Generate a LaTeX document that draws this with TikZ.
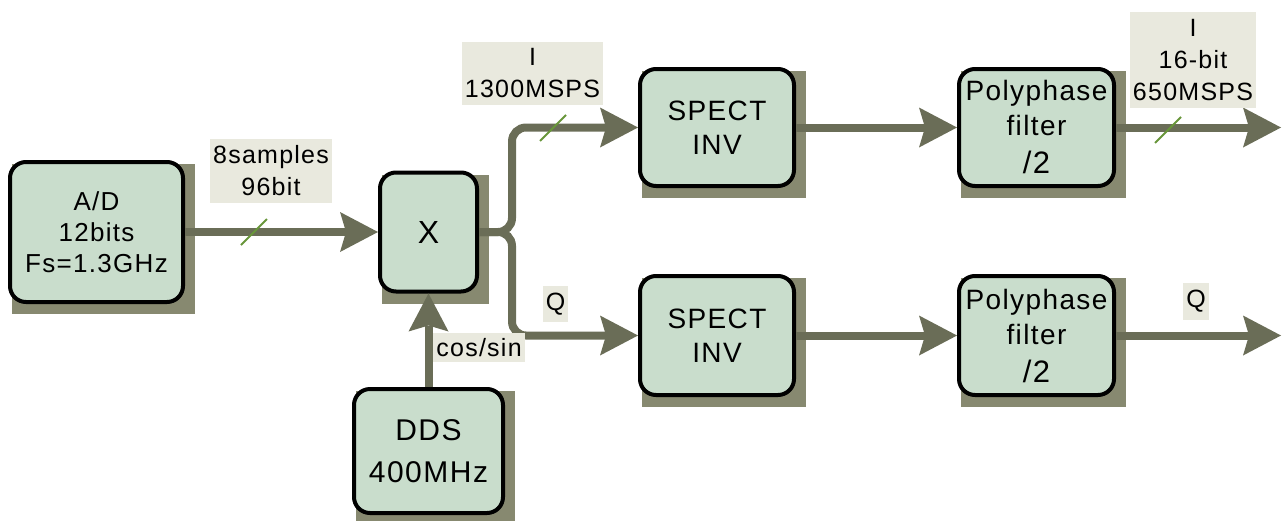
\documentclass[tikz,border=0pt]{standalone}
\usepackage{fontspec}
\setmainfont{Liberation Sans}[LetterSpace=5]
\usetikzlibrary{arrows.meta,positioning,calc,backgrounds}

\definecolor{boxc}{RGB}{201,221,204}
\definecolor{shadowc}{RGB}{135,137,112}
\definecolor{busc}{RGB}{106,109,87}
\definecolor{tagc}{RGB}{233,233,222}
\definecolor{slashc}{RGB}{104,150,58}

\begin{document}
\begin{tikzpicture}[
    x=1pt, y=-1pt,
    block/.style={rectangle, draw, line width=4pt, fill=boxc, text width=150pt, text centered,
                  rounded corners=16pt, inner sep=0pt, font=\fontsize{26}{31}\selectfont},
    bus/.style={draw=busc, line width=8pt,
                -{Stealth[length=38pt, width=40pt, inset=6pt, line width=0pt]}},
    tag/.style={fill=tagc, align=center, inner xsep=3pt, inner ysep=7pt,
                font=\fontsize{25}{32}\selectfont},
    slash/.style={draw=slashc, line width=2pt}
]
\useasboundingbox (0,0) rectangle (1282,520);

%% ── Blocks ───────────────────────────────────────────────────────
\node[block, minimum width=173pt, minimum height=140pt] (ad) at (96.5,232) {A/D\\12bits\\Fs=1.3GHz};
\node[block, minimum width=97pt, minimum height=119pt, text width=90pt, right=193pt of ad,
      font=\fontsize{32}{36}\selectfont] (mix) {X};
\node[block, minimum width=149pt, minimum height=124pt, text width=140pt, below=93.5pt of mix,
      font=\fontsize{30}{42}\selectfont] (dds) {DDS\\400MHz};
\node[block, minimum width=154pt, minimum height=117pt, font=\fontsize{28}{34}\selectfont]
    (spi) at (717,127.5) {SPECT\\INV};
\node[block, minimum width=154pt, minimum height=119pt, below=86pt of spi,
      font=\fontsize{28}{34}\selectfont] (spq) {SPECT\\INV};
\node[block, minimum width=155pt, minimum height=117pt, right=161pt of spi,
      font=\fontsize{28}{35}\selectfont] (ppi) {Polyphase\\filter\\[3pt]{\fontsize{31}{36}\selectfont /2}};
\node[block, minimum width=155pt, minimum height=119pt, right=161pt of spq,
      font=\fontsize{28}{35}\selectfont] (ppq) {Polyphase\\filter\\[3pt]{\fontsize{31}{36}\selectfont /2}};

%% ── Shadows ──────────────────────────────────────────────────────
\begin{scope}[on background layer]
  \foreach \n in {ad,mix,dds,spi,spq,ppi,ppq}
    \fill[shadowc] ($(\n.south west)+(4,10)$) rectangle ($(\n.north east)+(10,4)$);
\end{scope}

%% ── Buses ────────────────────────────────────────────────────────
\coordinate (split) at ($(mix.east)+(33,0)$);
\coordinate (outi)  at ($(ppi.east)+(165,0)$);
\coordinate (outq)  at ($(ppq.east)+(165,0)$);

\draw[bus] (ad) -- (mix);
\draw[bus] (dds) -- (mix);
\draw[bus, rounded corners=14pt] (mix.east) -- (split) |- (spi.west);
\draw[bus, rounded corners=14pt] (mix.east) -- (split) |- (spq.west);
\draw[bus] (spi) -- (ppi);
\draw[bus] (spq) -- (ppq);
\draw[bus] (ppi.east) -- (outi);
\draw[bus] (ppq.east) -- (outq);

%% ── Bus width marks ──────────────────────────────────────────────
\foreach \p in {(254,232),(553,128),(1168,130)}
  \draw[slash] \p ++(-13,13) -- ++(26,-26);

%% ── Labels ───────────────────────────────────────────────────────
\node[tag] (lad) at (271,171)    {8samples\\96bit};
\node[tag] (lii) at (532.5,73.5) {I\\1300MSPS};
\node[tag] (lqi) at (555.5,304)  {Q};
\node[tag, inner ysep=5pt] (lcs) at (479,347.5) {cos/sin};
\node[tag] (lio) at (1193,60)    {I\\16-bit\\650MSPS};
\node[tag] (lqo) at (1196,301.5) {Q};

\end{tikzpicture}
\end{document}
